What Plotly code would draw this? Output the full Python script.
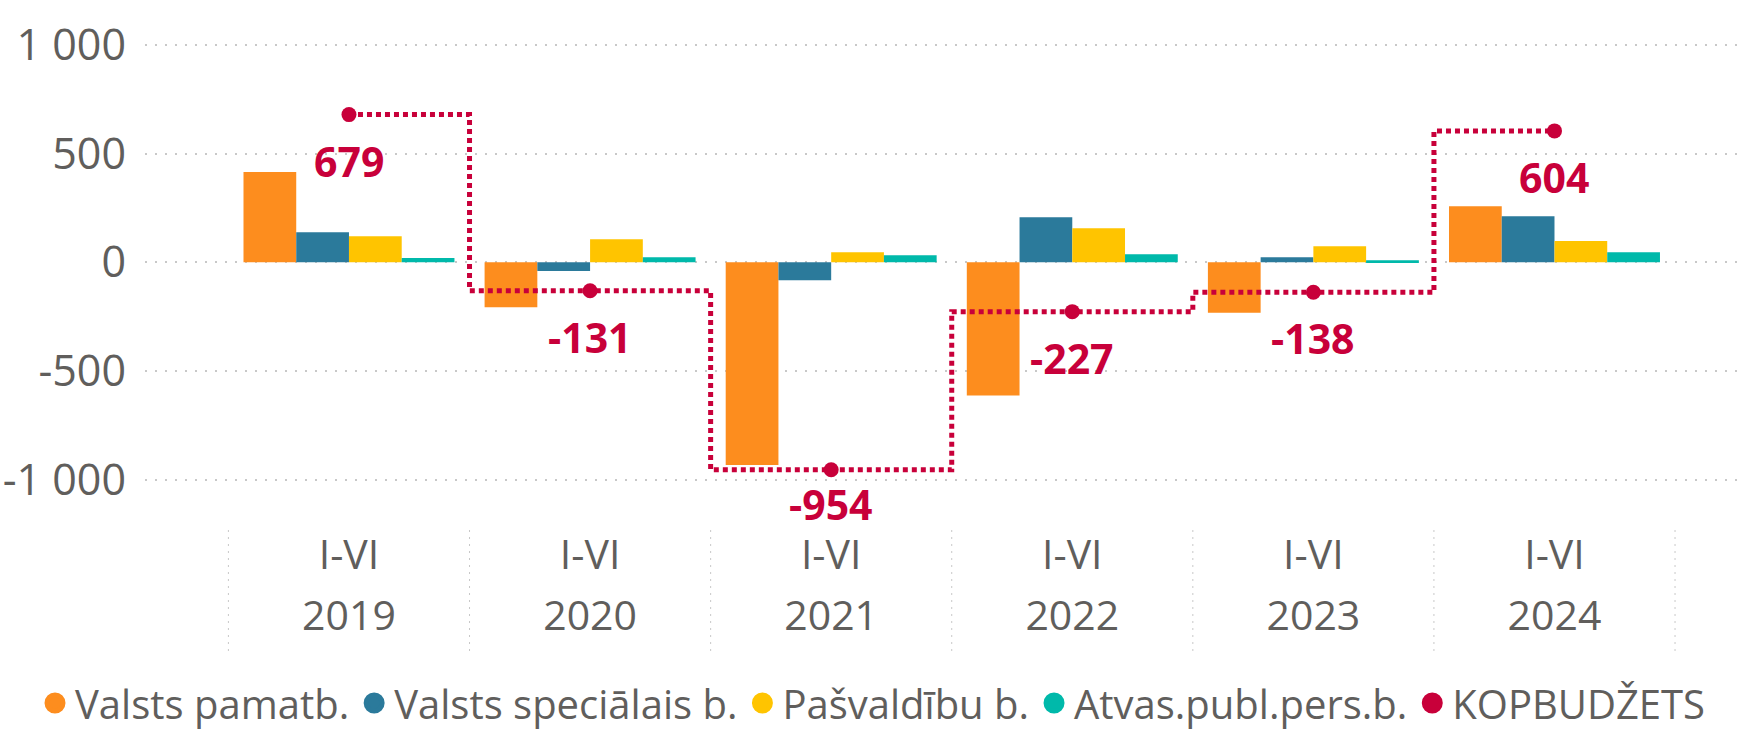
import plotly.graph_objects as go

# ---------------- data ----------------
periods = ["I-VI", "I-VI", "I-VI", "I-VI", "I-VI", "I-VI"]
years = ["2019", "2020", "2021", "2022", "2023", "2024"]
valsts_pamatb = [415, -207, -932, -613, -232, 258]
valsts_specialais = [138, -40, -83, 207, 23, 212]
pasvaldibu = [120, 106, 46, 156, 74, 98]
atvas_publ = [20, 23, 32, 37, 9, 46]
kopbudzets = [679, -131, -954, -227, -138, 604]
y_tick_vals = [-1000, -500, 0, 500, 1000]
y_tick_text = ["-1 000", "-500", "0", "500", "1 000"]
series_names = ["Valsts pamatb.", "Valsts speciālais b.", "Pašvaldību b.",
                "Atvas.publ.pers.b.", "KOPBUDŽETS"]

# ---------------- styling ----------------
colors = ["#FD8D1E", "#2B7A9B", "#FFC400", "#00B9AA", "#C8003A"]
FONT = "Open Sans"
GREY = "#605E5C"
W, H = 1746, 734
M_L, M_R, M_T, M_B = 145, 9, 10, 204
Y_RANGE = [-1231, 1160]
X_RANGE = [-0.846, 5.757]
PLOT_H = H - M_T - M_B
PLOT_W = W - M_L - M_R

x_idx = list(range(len(years)))
bar_series = [valsts_pamatb, valsts_specialais, pasvaldibu, atvas_publ]

fig = go.Figure()
for name, vals, col in zip(series_names[:4], bar_series, colors[:4]):
    fig.add_trace(go.Bar(x=x_idx, y=vals, name=name, marker=dict(color=col, line=dict(width=0)),
                         showlegend=False, hoverinfo="x+y+name"))

fig.add_trace(go.Scatter(x=x_idx, y=kopbudzets, name=series_names[4], mode="lines+markers",
                         line=dict(shape="hvh", color=colors[4], width=5, dash="5px,4px"),
                         marker=dict(size=15, color=colors[4]), showlegend=False))

# invisible trace for the second (year) axis
fig.add_trace(go.Scatter(x=x_idx, y=[None] * len(x_idx), xaxis="x2", showlegend=False,
                         hoverinfo="skip", mode="markers"))

# legend entries (circles)
for name, col in zip(series_names, colors):
    fig.add_trace(go.Scatter(x=[None], y=[None], mode="markers", name=name,
                             marker=dict(size=16, color=col, line=dict(width=5, color=col))))

# value labels for KOPBUDŽETS
px_per_unit = PLOT_H / (Y_RANGE[1] - Y_RANGE[0])
for xi, v in zip(x_idx, kopbudzets):
    shift = -46
    bottom_px = (v - Y_RANGE[0]) * px_per_unit  # distance from plot bottom
    if bottom_px + shift < 26:
        shift = -(bottom_px - 26)
    fig.add_annotation(x=xi, y=v, text=f"{v}", showarrow=False, yshift=shift,
                       xanchor="center", yanchor="middle",
                       font=dict(family=FONT, size=41, color=colors[4], weight="bold"))

# category dividers
for b in [i - 0.5 for i in range(len(years) + 1)]:
    fig.add_shape(type="line", xref="x", yref="paper", x0=b, x1=b, y0=0, y1=-123 / PLOT_H,
                  line=dict(color="#C8C8C8", width=1, dash="2px,5px"))

fig.update_layout(
    width=W, height=H,
    margin=dict(l=M_L, r=M_R, t=M_T, b=M_B, autoexpand=False),
    paper_bgcolor="white", plot_bgcolor="white",
    barmode="group", bargap=0.125, bargroupgap=0,
    font=dict(family=FONT, color=GREY, size=40),
    showlegend=True,
    legend=dict(orientation="h", xref="paper", yref="paper",
                x=(35 - M_L) / PLOT_W, y=-(703 - (H - M_B)) / PLOT_H,
                xanchor="left", yanchor="middle", font=dict(size=40, color=GREY),
                itemwidth=30, tracegroupgap=0, bgcolor="rgba(0,0,0,0)"),
    xaxis=dict(range=X_RANGE, tickvals=x_idx, ticktext=periods, showgrid=False,
               zeroline=False, showline=False, ticks="", ticklabelstandoff=-3,
               tickfont=dict(size=41, color=GREY)),
    xaxis2=dict(range=X_RANGE, overlaying="x", anchor="y", side="bottom",
                tickvals=x_idx, ticktext=years, showgrid=False, zeroline=False,
                showline=False, ticks="", ticklabelstandoff=58,
                tickfont=dict(size=41, color=GREY)),
    yaxis=dict(range=Y_RANGE, tickvals=y_tick_vals, ticktext=y_tick_text,
               showgrid=True, gridcolor="#C8C8C8", gridwidth=1.5, griddash="2px,8px",
               zeroline=False, showline=False, ticks="", ticklabelstandoff=18,
               tickfont=dict(size=43, color=GREY)),
)

fig.write_html("out.html", config={"displayModeBar": False},
               post_script="document.body.style.margin='0';")
